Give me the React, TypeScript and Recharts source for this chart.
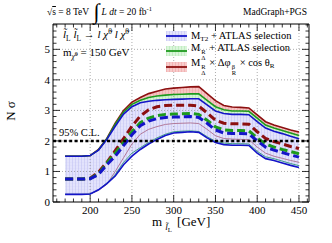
import React from 'react';
import { ComposedChart, Area, Line, XAxis, YAxis, ReferenceLine } from 'recharts';

// slepton mass points [GeV]
const masses = [170, 180, 190, 200, 210, 220, 230, 240, 250, 260, 270, 280, 290, 300, 310, 320, 330, 340, 350, 360, 370, 380, 390, 400, 410, 420, 430, 440, 450];

// M_T2 + ATLAS selection
const blueHi = [1.5, 1.5, 1.5, 1.52, 1.7, 2.05, 2.48, 2.88, 3.12, 3.25, 3.3, 3.33, 3.35, 3.36, 3.37, 3.38, 3.38, 3.18, 2.98, 2.9, 2.87, 2.87, 2.86, 2.63, 2.42, 2.32, 2.24, 2.15, 2.07];
const blueMid = [0.75, 0.75, 0.75, 0.76, 0.9, 1.22, 1.5, 1.85, 2.2, 2.5, 2.65, 2.73, 2.77, 2.78, 2.79, 2.8, 2.77, 2.58, 2.36, 2.26, 2.24, 2.24, 2.23, 2.0, 1.8, 1.7, 1.62, 1.54, 1.47];
const blueLo = [0.25, 0.25, 0.25, 0.26, 0.4, 0.6, 0.85, 1.22, 1.5, 1.72, 1.9, 2.05, 2.18, 2.26, 2.28, 2.3, 2.28, 2.1, 1.95, 1.88, 1.86, 1.86, 1.85, 1.6, 1.42, 1.36, 1.28, 1.2, 1.13];

// M_Delta^R + ATLAS selection
const greenHi = [1.5, 1.5, 1.5, 1.52, 1.71, 2.07, 2.55, 2.95, 3.2, 3.33, 3.42, 3.47, 3.5, 3.52, 3.53, 3.54, 3.54, 3.33, 3.12, 3.02, 2.98, 2.98, 2.97, 2.75, 2.52, 2.42, 2.34, 2.26, 2.18];
const greenMid = [0.75, 0.75, 0.75, 0.77, 0.92, 1.27, 1.6, 1.95, 2.3, 2.6, 2.75, 2.83, 2.87, 2.88, 2.89, 2.9, 2.87, 2.68, 2.46, 2.36, 2.34, 2.34, 2.33, 2.1, 1.9, 1.8, 1.72, 1.65, 1.58];
const greenLo = [0.25, 0.25, 0.25, 0.26, 0.4, 0.62, 0.9, 1.3, 1.6, 1.78, 1.95, 2.1, 2.22, 2.3, 2.32, 2.33, 2.31, 2.14, 1.99, 1.93, 1.91, 1.91, 1.9, 1.66, 1.48, 1.42, 1.34, 1.26, 1.19];

// M_Delta^R x dphi x cos theta
const redHi = [1.5, 1.5, 1.5, 1.52, 1.72, 2.08, 2.58, 3.0, 3.27, 3.42, 3.55, 3.63, 3.7, 3.73, 3.75, 3.77, 3.78, 3.55, 3.32, 3.16, 3.11, 3.1, 3.08, 2.85, 2.63, 2.52, 2.44, 2.36, 2.29];
const redMid = [0.75, 0.75, 0.75, 0.78, 0.98, 1.3, 1.68, 2.08, 2.48, 2.82, 3.02, 3.12, 3.16, 3.17, 3.17, 3.17, 3.14, 2.92, 2.68, 2.58, 2.56, 2.56, 2.55, 2.3, 2.08, 1.98, 1.9, 1.82, 1.75];
const redLo = [0.25, 0.25, 0.25, 0.26, 0.38, 0.58, 1.0, 1.45, 1.9, 2.22, 2.38, 2.47, 2.54, 2.57, 2.58, 2.59, 2.57, 2.38, 2.17, 2.08, 2.06, 2.05, 2.04, 1.8, 1.6, 1.5, 1.43, 1.36, 1.3];

const xMajor = [200, 250, 300, 350, 400, 450];
const yMajor = [0, 1, 2, 3, 4, 5];
const clLevel = 2;

const xTicks = Array.from({ length: 31 }, (_, i) => 160 + i * 10);
const yTicks = Array.from({ length: 30 }, (_, i) => Math.round(i * 2) / 10);

const rows = masses.map((m, i) => ({
  m,
  redBand: [redLo[i], redHi[i]],
  greenBand: [greenLo[i], greenHi[i]],
  blueBand: [blueLo[i], blueHi[i]],
  blueHi: blueHi[i], blueMid: blueMid[i], blueLo: blueLo[i],
  greenHi: greenHi[i], greenMid: greenMid[i], greenLo: greenLo[i],
  redHi: redHi[i], redMid: redMid[i], redLo: redLo[i],
}));

const FONT = '"Liberation Serif", "DejaVu Serif", serif';
const BLUE = '#1414c8';
const GREEN = '#1d9a1d';
const RED = '#8c1010';

const isMajorX = (v: number) => v % 50 === 0;
const isMajorY = (v: number) => Math.abs(v - Math.round(v)) < 1e-6;

const BottomTick = (props: any) => {
  const { x, y, payload } = props;
  const major = isMajorX(payload.value);
  return (
    <g>
      <line x1={x} x2={x} y1={y} y2={y - (major ? 7 : 3.5)} stroke="#000" strokeWidth={0.8} />
      {major && (
        <text x={x} y={y + 12} textAnchor="middle" fontSize={11} fontFamily={FONT} fill="#000">
          {payload.value}
        </text>
      )}
    </g>
  );
};

const TopTick = (props: any) => {
  const { x, y, payload } = props;
  const major = isMajorX(payload.value);
  return <line x1={x} x2={x} y1={y} y2={y + (major ? 7 : 3.5)} stroke="#000" strokeWidth={0.8} />;
};

const LeftTick = (props: any) => {
  const { x, y, payload } = props;
  const major = isMajorY(payload.value);
  return (
    <g>
      <line x1={x} x2={x + (major ? 7 : 3.5)} y1={y} y2={y} stroke="#000" strokeWidth={0.8} />
      {major && (
        <text x={x - 3} y={y + 4} textAnchor="end" fontSize={11} fontFamily={FONT} fill="#000">
          {Math.round(payload.value)}
        </text>
      )}
    </g>
  );
};

const RightTick = (props: any) => {
  const { x, y, payload } = props;
  const major = isMajorY(payload.value);
  return <line x1={x} x2={x - (major ? 7 : 3.5)} y1={y} y2={y} stroke="#000" strokeWidth={0.8} />;
};

const Hatch = ({ id, bg, fg }: { id: string; bg: string; fg: string }) => (
  <pattern id={id} width={3} height={3} patternUnits="userSpaceOnUse">
    <rect width={3} height={3} fill={bg} />
    <rect x={0} y={0} width={0.7} height={3} fill={fg} />
    <rect x={0} y={0} width={3} height={0.4} fill={fg} opacity={0.4} />
  </pattern>
);

const sub: React.CSSProperties = { fontSize: '0.68em', verticalAlign: '-0.35em', lineHeight: 0 };
const sup: React.CSSProperties = { fontSize: '0.68em', verticalAlign: '0.55em', lineHeight: 0 };

const SupSub = ({ up, down }: { up: string; down: string }) => (
  <span style={{ display: 'inline-flex', flexDirection: 'column', fontSize: '0.62em', lineHeight: '0.95em', verticalAlign: '-0.45em', margin: '0 1px' }}>
    <span>{up}</span>
    <span>{down}</span>
  </span>
);

const Swatch = ({ id, bg, fg, line }: { id: string; bg: string; fg: string; line: string }) => (
  <svg width={21} height={10} style={{ marginRight: 4, flex: 'none' }}>
    <defs>
      <Hatch id={id} bg={bg} fg={fg} />
    </defs>
    <rect width={21} height={10} fill={`url(#${id})`} />
    <line x1={0} x2={21} y1={5} y2={5} stroke={line} strokeWidth={1.8} />
  </svg>
);

const legendRows = [
  { id: 'lgB', bg: '#e4e4fc', fg: '#c8c8f4', line: BLUE, label: <span>M<span style={sub}>T2</span> + ATLAS selection</span> },
  { id: 'lgG', bg: '#dcf6dc', fg: '#b8eab8', line: GREEN, label: <span>M<SupSub up="R" down="Δ" /> + ATLAS selection</span> },
  { id: 'lgR', bg: '#f8cccc', fg: '#f0aaaa', line: RED, label: <span>M<SupSub up="R" down="Δ" /> × Δφ<SupSub up="β" down="R" /> × cos θ<span style={sub}>R</span></span> },
];

export default function App() {
  const common = { xAxisId: 'b', yAxisId: 'l', isAnimationActive: false, type: 'linear' as const };
  return (
    <div style={{ position: 'absolute', left: 0, top: 0, width: 332, height: 243, background: '#fff', fontFamily: FONT, color: '#000' }}>
      <ComposedChart width={332} height={243} data={rows} margin={{ top: 14, right: 22, bottom: 0, left: 0 }}>
        <defs>
          <Hatch id="hatchBlue" bg="#e3e3fc" fg="#cacaf5" />
          <Hatch id="hatchGreen" bg="#d4f5d4" fg="#b4e8b4" />
          <Hatch id="hatchRed" bg="#f8c6c6" fg="#f1a8a8" />
        </defs>
        <XAxis xAxisId="b" dataKey="m" type="number" domain={[155.5, 462]} ticks={xTicks} interval={0}
          allowDataOverflow height={41} tickSize={0} tickMargin={0} tickLine={false}
          axisLine={{ stroke: '#000', strokeWidth: 1 }} tick={<BottomTick />} />
        <XAxis xAxisId="t" orientation="top" dataKey="m" type="number" domain={[155.5, 462]} ticks={xTicks} interval={0}
          allowDataOverflow height={10} tickSize={0} tickMargin={0} tickLine={false}
          axisLine={{ stroke: '#000', strokeWidth: 1 }} tick={<TopTick />} />
        <YAxis yAxisId="l" type="number" domain={[0, 5.83]} ticks={yTicks} interval={0} allowDataOverflow
          width={53} tickSize={0} tickMargin={0} tickLine={false}
          axisLine={{ stroke: '#000', strokeWidth: 1 }} tick={<LeftTick />} />
        <YAxis yAxisId="r" orientation="right" type="number" domain={[0, 5.83]} ticks={yTicks} interval={0} allowDataOverflow
          width={1} tickSize={0} tickMargin={0} tickLine={false}
          axisLine={{ stroke: '#000', strokeWidth: 1 }} tick={<RightTick />} />

        {xMajor.map((v) => (
          <ReferenceLine key={'gx' + v} xAxisId="b" yAxisId="l" x={v} stroke="#8a8a8a" strokeWidth={0.7} strokeDasharray="1 2" />
        ))}
        {yMajor.slice(1).map((v) => (
          <ReferenceLine key={'gy' + v} xAxisId="b" yAxisId="l" y={v} stroke="#8a8a8a" strokeWidth={0.7} strokeDasharray="1 2" />
        ))}

        <Area {...common} dataKey="redBand" stroke="none" fill="url(#hatchRed)" fillOpacity={1} activeDot={false} />
        <Area {...common} dataKey="greenBand" stroke="none" fill="url(#hatchGreen)" fillOpacity={1} activeDot={false} />
        <Area {...common} dataKey="blueBand" stroke="none" fill="url(#hatchBlue)" fillOpacity={1} activeDot={false} />

        <Line {...common} dataKey="redLo" stroke="#b27a9a" strokeWidth={1} dot={false} activeDot={false} />
        <Line {...common} dataKey="greenLo" stroke="#3f9f86" strokeWidth={1} dot={false} activeDot={false} />
        <Line {...common} dataKey="blueLo" stroke={BLUE} strokeWidth={1.6} dot={false} activeDot={false} />
        <Line {...common} dataKey="redHi" stroke={RED} strokeWidth={1.6} dot={false} activeDot={false} />
        <Line {...common} dataKey="greenHi" stroke={GREEN} strokeWidth={1.6} dot={false} activeDot={false} />
        <Line {...common} dataKey="blueHi" stroke={BLUE} strokeWidth={1.6} dot={false} activeDot={false} />
        <Line {...common} dataKey="redMid" stroke={RED} strokeWidth={3} strokeDasharray="8 4" dot={false} activeDot={false} />
        <Line {...common} dataKey="greenMid" stroke={GREEN} strokeWidth={3} strokeDasharray="8 4" dot={false} activeDot={false} />
        <Line {...common} dataKey="blueMid" stroke={BLUE} strokeWidth={3} strokeDasharray="8 4" dot={false} activeDot={false} />

        <ReferenceLine xAxisId="b" yAxisId="l" y={clLevel} stroke="#000" strokeWidth={2.6} strokeDasharray="3 2.4" />
      </ComposedChart>

      {/* header */}
      <div style={{ position: 'absolute', left: 47, top: 0, height: 24, display: 'flex', alignItems: 'center', fontSize: 9.5, whiteSpace: 'nowrap' }}>
        <span>√<span style={{ textDecoration: 'overline' }}>s</span> = 8 TeV&nbsp;</span>
        <span style={{ fontSize: 22, lineHeight: '22px', margin: '0 2px' }}>∫</span>
        <span><i>L</i> <i>dt</i> = 20 fb<span style={sup}>-1</span></span>
      </div>
      <div style={{ position: 'absolute', left: 243, top: 6, fontSize: 9.5, whiteSpace: 'nowrap', lineHeight: '12px' }}>MadGraph+PGS</div>

      {/* process labels */}
      <div style={{ position: 'absolute', left: 63, top: 27, fontSize: 11, whiteSpace: 'nowrap', lineHeight: '14px' }}>
        <i>l̃</i><span style={sub}>L</span> <i>l̃</i><span style={sub}>L</span> → <i>l</i> <i>χ̃</i><span style={sup}>0</span> <i>l</i> <i>χ̃</i><span style={sup}>0</span>
      </div>
      <div style={{ position: 'absolute', left: 63, top: 45, fontSize: 11, whiteSpace: 'nowrap', lineHeight: '14px' }}>
        m<span style={sub}><i>χ̃</i><span style={{ fontSize: '0.8em', verticalAlign: '0.5em' }}>0</span></span> = 150 GeV
      </div>

      <div style={{ position: 'absolute', left: 59, top: 127, fontSize: 10.5, whiteSpace: 'nowrap', lineHeight: '12px' }}>95% C.L.</div>

      {/* legend */}
      <div style={{ position: 'absolute', left: 166, top: 28, fontSize: 10.5, whiteSpace: 'nowrap' }}>
        {legendRows.map((r) => (
          <div key={r.id} style={{ display: 'flex', alignItems: 'center', height: 15.5 }}>
            <Swatch id={r.id} bg={r.bg} fg={r.fg} line={r.line} />
            {r.label}
          </div>
        ))}
      </div>

      {/* axis titles */}
      <div style={{ position: 'absolute', left: -9, top: 103, width: 40, height: 16, lineHeight: '16px', textAlign: 'center', fontSize: 13, transform: 'rotate(-90deg)' }}>
        N σ
      </div>
      <div style={{ position: 'absolute', left: 152, top: 214, fontSize: 13, whiteSpace: 'nowrap', lineHeight: '16px' }}>
        m<span style={{ fontSize: '0.7em', verticalAlign: '-0.45em', lineHeight: 0, margin: '0 2px 0 3px' }}><i>l̃</i><span style={{ fontSize: '0.75em', verticalAlign: '-0.3em' }}>L</span></span> [GeV]
      </div>
    </div>
  );
}
